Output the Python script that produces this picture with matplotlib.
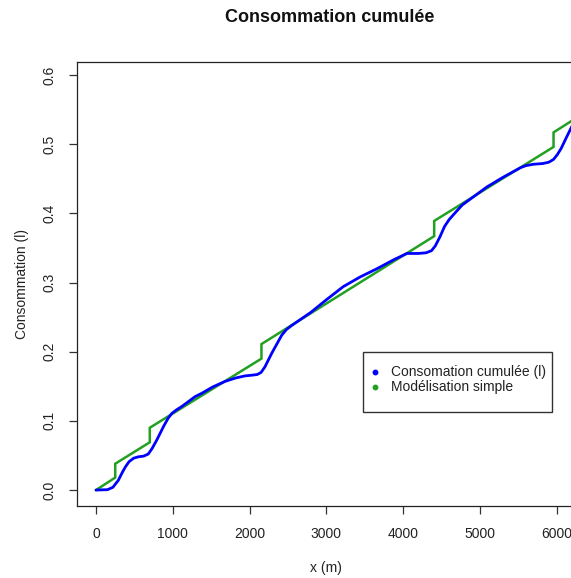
import matplotlib
matplotlib.use("Agg")
import matplotlib.pyplot as plt
from matplotlib.patches import Rectangle
from matplotlib.lines import Line2D

plt.rcParams['font.family'] = ['Liberation Sans', 'DejaVu Sans']

# Blue: measured cumulative consumption
x_conso = [0, 150, 220, 290, 340, 380, 430, 490, 550, 620, 680, 730, 790, 880, 940,
           990, 1050, 1120, 1290, 1380, 1520, 1680, 1820, 1940, 2030, 2100, 2150,
           2200, 2290, 2360, 2420, 2480, 2550, 2800, 3000, 3220, 3440, 3660, 3880,
           4050, 4200, 4300, 4370, 4420, 4480, 4540, 4600, 4680, 4770, 5090, 5300,
           5530, 5600, 5700, 5820, 5900, 5960, 6010, 6060, 6120, 6200]
y_conso = [0.0, 0.0005, 0.004, 0.014, 0.025, 0.033, 0.041, 0.046, 0.048, 0.049,
           0.052, 0.060, 0.072, 0.092, 0.104, 0.111, 0.116, 0.121, 0.135, 0.140,
           0.149, 0.157, 0.162, 0.165, 0.166, 0.167, 0.170, 0.178, 0.198, 0.212,
           0.224, 0.232, 0.238, 0.257, 0.275, 0.294, 0.308, 0.320, 0.333, 0.342,
           0.342, 0.343, 0.346, 0.353, 0.366, 0.381, 0.391, 0.401, 0.412, 0.438,
           0.452, 0.466, 0.469, 0.471, 0.472, 0.474, 0.478, 0.485, 0.494, 0.508,
           0.526]

# Green: simple model (linear with steps)
x_model = [0, 250, 250, 700, 700, 2155, 2155, 4405, 4405, 5960, 5960, 6200]
y_model = [0.0, 0.018, 0.038, 0.069, 0.090, 0.190, 0.211, 0.367, 0.389, 0.496, 0.517, 0.534]

x_ticks = [0, 1000, 2000, 3000, 4000, 5000, 6000]
y_ticks = [0.0, 0.1, 0.2, 0.3, 0.4, 0.5, 0.6]

title = "Consommation cumulée"
xlabel = "x (m)"
ylabel = "Consommation (l)"
legend_labels = ["Consomation cumulée (l)", "Modélisation simple"]

W, H = 571, 578
fig = plt.figure(figsize=(W / 100, H / 100), dpi=100)
fig.patch.set_facecolor('white')

left_px, right_px, top_px, bot_px = 77, 591, 62, 506
ax = fig.add_axes([left_px / W, 1 - bot_px / H, (right_px - left_px) / W, (bot_px - top_px) / H])

blue = '#0000FF'
green = '#22A022'
ax.plot(x_model, y_model, color=green, lw=1.8, solid_joinstyle='miter')
ax.plot(x_conso, y_conso, color=blue, lw=2.0, solid_joinstyle='round', solid_capstyle='round')

ax.set_xlim(-248, 6448)
ax.set_ylim(-0.0231, 0.6188)
ax.set_xticks(x_ticks)
ax.set_xticklabels([str(v) for v in x_ticks])
ax.set_yticks(y_ticks)
ax.set_yticklabels([f"{v:.1f}" for v in y_ticks], rotation=90, va='center')

for s in ax.spines.values():
    s.set_color('#222222')
    s.set_linewidth(0.9)
ax.tick_params(axis='both', direction='out', length=6, width=0.9, color='#333333',
               labelsize=10, labelcolor='#222222', pad=9)

fig.text(330 / W, 1 - 18 / H, title, ha='center', va='center', fontsize=13,
         fontweight='bold', color='#111111')
fig.text(326 / W, 1 - 568 / H, xlabel, ha='center', va='center', fontsize=10, color='#222222')
fig.text(22 / W, 1 - 284 / H, ylabel, ha='center', va='center', fontsize=10,
         rotation=90, color='#222222')

# Legend drawn in figure pixel layout (R-style box)
lx0, lx1, ly0, ly1 = 363, 552, 352, 412
fig.patches.append(Rectangle((lx0 / W, 1 - ly1 / H), (lx1 - lx0) / W, (ly1 - ly0) / H,
                             transform=fig.transFigure, facecolor='white',
                             edgecolor='#333333', linewidth=1.0, zorder=5))
for i, (lab, col) in enumerate(zip(legend_labels, [blue, green])):
    yy = 1 - (372 + 15 * i) / H
    fig.add_artist(Line2D([375 / W], [yy], marker='o', markersize=3.2, color=col,
                          ls='none', transform=fig.transFigure, zorder=6))
    fig.text(391 / W, yy, lab, ha='left', va='center', fontsize=10, color='#222222',
             zorder=6)

fig.savefig('out.png', dpi=100, facecolor='white')
